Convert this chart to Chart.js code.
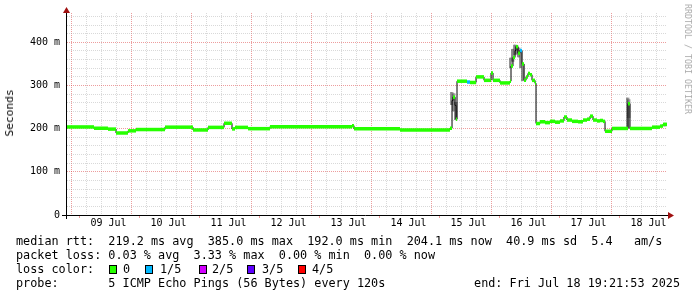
<!DOCTYPE html>
<html>
<head>
<meta charset="utf-8">
<script src="https://cdn.jsdelivr.net/npm/chart.js@4/dist/chart.umd.min.js"></script>
<style>
  body { margin: 0; background: #fff; }
  #wrap { position: relative; width: 697px; height: 297px; overflow: hidden; font-family: 'DejaVu Sans Mono', monospace; color: #000; }
  canvas { position: absolute; left: 0; top: 0; }
  .t { position: absolute; white-space: pre; font-size: 11.8px; line-height: 14px; }
  .box { position: absolute; width: 6px; height: 7px; border: 1px solid #000; }
</style>
</head>
<body>
<div id="wrap">
  <canvas id="rtt" width="697" height="297"></canvas>
  <div class="t" style="top:106px;font-size:11.2px;transform:translate(-50%,0) rotate(-90deg);transform-origin:50% 50%;left:10px;">Seconds</div>
  <div class="t" style="left:688px;top:54px;font-size:8.3px;line-height:10px;color:#aaa;transform:translate(-50%,0) rotate(90deg);">RRDTOOL / TOBI OETIKER</div>
  <div class="t" style="left:16px;top:234px">median rtt:  219.2 ms avg  385.0 ms max  192.0 ms min  204.1 ms now  40.9 ms sd  5.4   am/s</div>
  <div class="t" style="left:16px;top:248px">packet loss: 0.03 % avg  3.33 % max  0.00 % min  0.00 % now</div>
  <div class="t" style="left:16px;top:262px">loss color:</div>
  <div id="lossLegend"></div>
  <div class="t" style="left:16px;top:276px">probe:       5 ICMP Echo Pings (56 Bytes) every 120s</div>
  <div class="t" style="right:17px;top:276px">end: Fri Jul 18 19:21:53 2025</div>
</div>
<script>
// time axis: days since 09 Jul 00:00, window ends Fri Jul 18 19:21:53
const xStart = -0.193;
const xEnd = 9.807;

const dayLabels = ['09 Jul', '10 Jul', '11 Jul', '12 Jul', '13 Jul', '14 Jul', '15 Jul', '16 Jul', '17 Jul', '18 Jul'];
const labelDays = [0.5, 1.5, 2.5, 3.5, 4.5, 5.5, 6.5, 7.5, 8.5, 9.5];

// median rtt (ms), step starts
const medianDays = [-0.193, 0.257, 0.490, 0.624, 0.824, 0.957, 1.440, 1.907, 2.157, 2.424,
  2.557, 2.607, 2.824, 3.190, 4.557, 4.590, 5.357, 6.190, 6.224, 6.240,
  6.274, 6.290, 6.307, 6.474, 6.524, 6.624, 6.757, 6.874, 6.907, 7.024,
  7.190, 7.207, 7.240, 7.274, 7.290, 7.324, 7.357, 7.390, 7.424, 7.457,
  7.490, 7.524, 7.557, 7.607, 7.624, 7.690, 7.774, 7.857, 7.940, 8.024,
  8.090, 8.140, 8.224, 8.324, 8.407, 8.474, 8.524, 8.574, 8.640, 8.690,
  8.740, 8.774, 8.890, 9.157, 9.190, 9.557, 9.690, 9.740];
const medianRtt = [204, 201, 199, 190, 195, 198, 203.5, 197, 203, 212.5,
  199.5, 203, 200, 204.5, 207, 200, 197, 201, 265, 273,
  254, 222, 310, 308, 307, 320, 312, 329, 312, 306,
  310, 345, 365, 381, 390, 375, 381, 350, 312, 320,
  328, 325, 312, 305, 212, 216, 214, 217, 215, 218,
  227, 220, 217, 216, 220, 222, 229, 220, 218, 219,
  217, 194, 200.5, 258, 200.5, 203.5, 206, 210];
// lost pings out of 5 for each step
const medianLoss = [0, 0, 0, 0, 0, 0, 0, 0, 0, 0,
  0, 0, 0, 0, 0, 0, 0, 0, 0, 0,
  0, 0, 0, 1, 0, 0, 0, 0, 0, 0,
  0, 0, 0, 0, 0, 0, 1, 0, 0, 0,
  0, 0, 0, 0, 0, 0, 0, 0, 0, 0,
  0, 0, 0, 0, 0, 0, 0, 0, 0, 0,
  0, 0, 0, 0, 0, 0, 0, 0];

// smoke (spread of the pings) where it is visible
const smokeDays = [6.224, 6.257, 6.290, 7.207, 7.240, 7.274, 7.307, 7.340, 7.374, 7.407, 9.157, 9.174, 9.774];
const smokeLow = [255, 240, 220, 340, 355, 370, 372, 365, 340, 310, 200, 225, 205];
const smokeHigh = [285, 282, 262, 365, 385, 395, 393, 388, 382, 350, 272, 268, 214];

const lossColors = ['#26ff00', '#00b8ff', '#d200ff', '#5e00ff', '#ff0000'];
const lossNames = ['0', '1/5', '2/5', '3/5', '4/5'];

// loss legend boxes
const legendBoxX = [109, 145, 199, 247, 298];
const legendTextX = [123, 160, 212, 262, 312];
const lossLegend = document.getElementById('lossLegend');
lossNames.forEach((name, i) => {
  const b = document.createElement('div');
  b.className = 'box';
  b.style.left = legendBoxX[i] + 'px';
  b.style.top = '265px';
  b.style.background = lossColors[i];
  lossLegend.appendChild(b);
  const t = document.createElement('div');
  t.className = 't';
  t.style.left = legendTextX[i] + 'px';
  t.style.top = '262px';
  t.textContent = name;
  lossLegend.appendChild(t);
});

// stepped black line (shows the vertical jumps)
const stepData = medianDays.map((d, i) => ({ x: d, y: medianRtt[i] }));
stepData.push({ x: xEnd, y: medianRtt[medianRtt.length - 1] });

// horizontal colored pieces only
const flatData = [];
medianDays.forEach((d, i) => {
  const next = i + 1 < medianDays.length ? medianDays[i + 1] : xEnd;
  flatData.push({ x: d, y: medianRtt[i] }, { x: next, y: medianRtt[i] }, { x: next, y: null });
});

const smokeData = smokeDays.map((d, i) => ({ x: d, y: [smokeLow[i], smokeHigh[i]] }));

const minorGrid = 'rgba(160,160,160,0.4)';
const majorGrid = 'rgba(220,60,60,0.5)';

const axisArrows = {
  id: 'axisArrows',
  afterDatasetsDraw(chart) {
    const { ctx, chartArea: a, scales: { x } } = chart;
    ctx.save();
    ctx.lineWidth = 1;
    ctx.strokeStyle = majorGrid;
    ctx.beginPath();
    for (let d = 0; d <= 9; d++) {
      const px = Math.round(x.getPixelForValue(d)) + 0.5;
      ctx.moveTo(px, a.bottom);
      ctx.lineTo(px, a.bottom + 3);
    }
    ctx.stroke();
    ctx.strokeStyle = '#000';
    ctx.beginPath();
    ctx.moveTo(a.left - 5, a.bottom + 0.5);
    ctx.lineTo(a.right + 2, a.bottom + 0.5);
    ctx.moveTo(a.left - 0.5, a.bottom + 4);
    ctx.lineTo(a.left - 0.5, a.top);
    ctx.stroke();
    ctx.fillStyle = '#a01010';
    ctx.beginPath();
    ctx.moveTo(a.right + 1, a.bottom - 3);
    ctx.lineTo(a.right + 7, a.bottom + 0.5);
    ctx.lineTo(a.right + 1, a.bottom + 4);
    ctx.closePath();
    ctx.fill();
    ctx.beginPath();
    ctx.moveTo(a.left - 4, a.top);
    ctx.lineTo(a.left - 0.5, a.top - 6);
    ctx.lineTo(a.left + 3, a.top);
    ctx.closePath();
    ctx.fill();
    ctx.restore();
  }
};

new Chart(document.getElementById('rtt'), {
  type: 'line',
  data: {
    datasets: [
      {
        data: flatData,
        xAxisID: 'x',
        borderWidth: 3.5,
        pointRadius: 0,
        spanGaps: false,
        borderColor: lossColors[0],
        segment: {
          borderColor: ctx => lossColors[medianLoss[Math.floor(ctx.p0DataIndex / 3)]]
        }
      },
      {
        data: stepData,
        xAxisID: 'x',
        stepped: 'before',
        borderColor: '#000',
        borderWidth: 1,
        pointRadius: 0
      },
      {
        type: 'bar',
        data: smokeData,
        xAxisID: 'x',
        backgroundColor: 'rgba(140,140,140,0.85)',
        borderColor: 'rgba(60,60,60,0.8)',
        borderWidth: { left: 1, right: 0, top: 0, bottom: 0 },
        barThickness: 3
      }
    ]
  },
  options: {
    responsive: false,
    animation: false,
    layout: { padding: { left: 0, top: 13, right: 30, bottom: 0 } },
    plugins: { legend: { display: false }, tooltip: { enabled: false } },
    scales: {
      x: {
        type: 'linear',
        min: xStart,
        max: xEnd,
        offset: false,
        afterBuildTicks: s => {
          s.ticks = [];
          for (let k = 0; k < 40; k++) s.ticks.push({ value: k * 0.25 });
        },
        ticks: { display: false },
        grid: {
          drawTicks: false,
          borderDash: [1, 1],
          color: c => (c.tick && c.tick.value % 1 === 0) ? majorGrid : minorGrid
        },
        border: { display: false, dash: [1, 1] },
        afterFit: s => { s.height = 0; }
      },
      x2: {
        type: 'linear',
        position: 'bottom',
        min: xStart,
        max: xEnd,
        offset: false,
        afterBuildTicks: s => { s.ticks = labelDays.map(v => ({ value: v })); },
        ticks: {
          autoSkip: false,
          maxRotation: 0,
          padding: 2,
          color: '#000',
          font: { family: 'DejaVu Sans Mono', size: 10 },
          callback: (v, i) => dayLabels[i]
        },
        grid: { display: false, drawTicks: false },
        border: { display: false },
        afterFit: s => { s.height = 82; }
      },
      y: {
        type: 'linear',
        min: 0,
        max: 468,
        afterBuildTicks: s => {
          s.ticks = [];
          for (let v = 0; v <= 460; v += 20) s.ticks.push({ value: v });
        },
        ticks: {
          autoSkip: false,
          padding: 7,
          color: '#000',
          font: { family: 'DejaVu Sans Mono', size: 10 },
          callback: v => v % 100 === 0 ? (v === 0 ? '0' : v + ' m') : ''
        },
        grid: {
          drawTicks: false,
          borderDash: [1, 1],
          color: c => (c.tick && c.tick.value === 0) ? 'rgba(0,0,0,0)' : (c.tick && c.tick.value % 100 === 0 ? majorGrid : minorGrid)
        },
        border: { display: false, dash: [1, 1] },
        afterFit: s => { s.width = 67; }
      }
    }
  },
  plugins: [axisArrows]
});
</script>
</body>
</html>
